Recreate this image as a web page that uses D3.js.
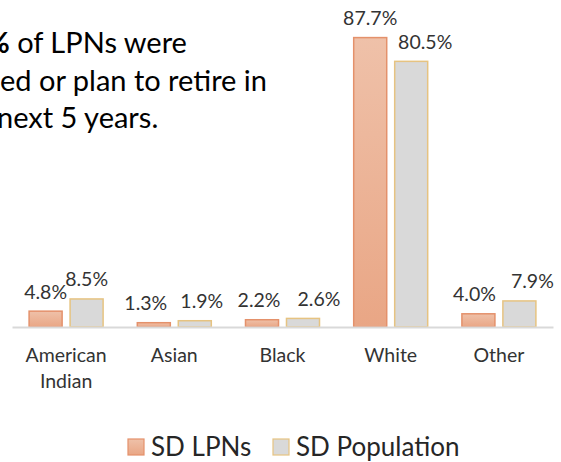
<!DOCTYPE html>
<html>
<head>
<meta charset="utf-8">
<script src="https://cdn.jsdelivr.net/npm/d3@7/dist/d3.min.js"></script>
<style>
    body { margin: 0; background: #fff; }
    svg { display: block; font-family: Lato, "Open Sans", sans-serif; }
</style>
</head>
<body>
<div id="chart"></div>
<script>
// Data
var categories = ["American Indian", "Asian", "Black", "White", "Other"];
var seriesNames = ["SD LPNs", "SD Population"];
var lpnValues = [4.8, 1.3, 2.2, 87.7, 4.0];
var popValues = [8.5, 1.9, 2.6, 80.5, 7.9];

// label nudges (px) so labels sit where the original put them
var lpnLabelDx = [0, -8, -3, 0, -4];
var popLabelDx = [0, 7, 16, 14, 13];

var width = 561, height = 462;

var svg = d3.select("#chart")
    .append("svg")
    .attr("width", width)
    .attr("height", height);

// gradient for the LPN bars
var defs = svg.append("defs");
var grad = defs.append("linearGradient")
    .attr("id", "lpnGrad")
    .attr("x1", 0).attr("y1", 0).attr("x2", 0).attr("y2", 1);
grad.append("stop").attr("offset", "0%").attr("stop-color", "#efc1a9");
grad.append("stop").attr("offset", "100%").attr("stop-color", "#e9a685");

var fills = ["url(#lpnGrad)", "#d9d9d9"];
var strokes = ["#e4916b", "#e6c381"];

/**
 * Title text box (clipped on the left like the original)
 */
var note = svg.append("g")
    .style("font-size", "29px")
    .style("fill", "#000");

var line1 = note.append("text").attr("x", -14).attr("y", 53);
line1.append("tspan").style("font-weight", "bold").text("%");
line1.append("tspan").text(" of LPNs were");
note.append("text").attr("x", 0).attr("y", 91).text("ed or plan to retire in");
note.append("text").attr("x", -3).attr("y", 128).text("next 5 years.");

/**
 * Scales
 */
var x0 = d3.scaleBand()
    .domain(categories)
    .range([12, 553])
    .padding(0);

var x1 = d3.scaleBand()
    .domain(seriesNames)
    .range([0, x0.bandwidth()])
    .paddingInner(0.17)
    .paddingOuter(0.405);

var y = d3.scaleLinear()
    .domain([0, 100])
    .range([327, -3]);

// rows: one object per category
var rows = categories.map(function (c, i) {
    return { key: c, values: [lpnValues[i], popValues[i]], dx: [lpnLabelDx[i], popLabelDx[i]] };
});

/**
 * Bars
 */
var groups = svg.selectAll(".group")
    .data(rows)
    .enter()
    .append("g")
    .attr("class", "group")
    .attr("transform", function (d) { return "translate(" + x0(d.key) + ",0)"; });

groups.selectAll("rect")
    .data(function (d) {
        return d.values.map(function (v, j) { return { s: j, value: v }; });
    })
    .enter()
    .append("rect")
    .attr("x", function (d) { return x1(seriesNames[d.s]) + 0.5; })
    .attr("y", function (d) { return y(d.value); })
    .attr("width", x1.bandwidth() - 1)
    .attr("height", function (d) { return y(0) - y(d.value); })
    .attr("fill", function (d) { return fills[d.s]; })
    .attr("stroke", function (d) { return strokes[d.s]; })
    .attr("stroke-width", 1.5);

// value labels
groups.selectAll(".val")
    .data(function (d) {
        return d.values.map(function (v, j) { return { s: j, value: v, dx: d.dx[j] }; });
    })
    .enter()
    .append("text")
    .attr("class", "val")
    .attr("x", function (d) { return x1(seriesNames[d.s]) + x1.bandwidth() / 2 + d.dx; })
    .attr("y", function (d) { return y(d.value) - 12.5; })
    .attr("text-anchor", "middle")
    .style("font-size", "19.5px")
    .style("fill", "#333")
    .text(function (d) { return d.value.toFixed(1) + "%"; });

/**
 * X axis
 */
var xAxis = svg.append("g")
    .attr("class", "x axis")
    .attr("transform", "translate(0," + y(0) + ")")
    .call(d3.axisBottom(x0).tickSize(0).tickPadding(0));

xAxis.select(".domain")
    .attr("stroke", "#d9d9d9")
    .attr("stroke-width", 2);

xAxis.selectAll(".tick text")
    .style("font-size", "19.5px")
    .style("font-family", "Lato, 'Open Sans', sans-serif")
    .style("fill", "#333")
    .attr("y", 0)
    .attr("dy", 0)
    .each(function (d) {
        var t = d3.select(this);
        var words = d.split(" ");
        t.text(null);
        words.forEach(function (w, k) {
            t.append("tspan")
                .attr("x", 0)
                .attr("y", 35 + k * 26)
                .text(w);
        });
    });

/**
 * Legend
 */
var legend = svg.append("g")
    .attr("class", "legend")
    .style("font-size", "26px")
    .style("fill", "#262626");

var legendX = [128, 273];
seriesNames.forEach(function (name, j) {
    var item = legend.append("g")
        .attr("transform", "translate(" + legendX[j] + ",439)");
    item.append("rect")
        .attr("width", 16)
        .attr("height", 16)
        .attr("fill", fills[j])
        .attr("stroke", strokes[j])
        .attr("stroke-width", 1.2);
    item.append("text")
        .attr("x", 23)
        .attr("y", 17)
        .text(name);
});
</script>
</body>
</html>
